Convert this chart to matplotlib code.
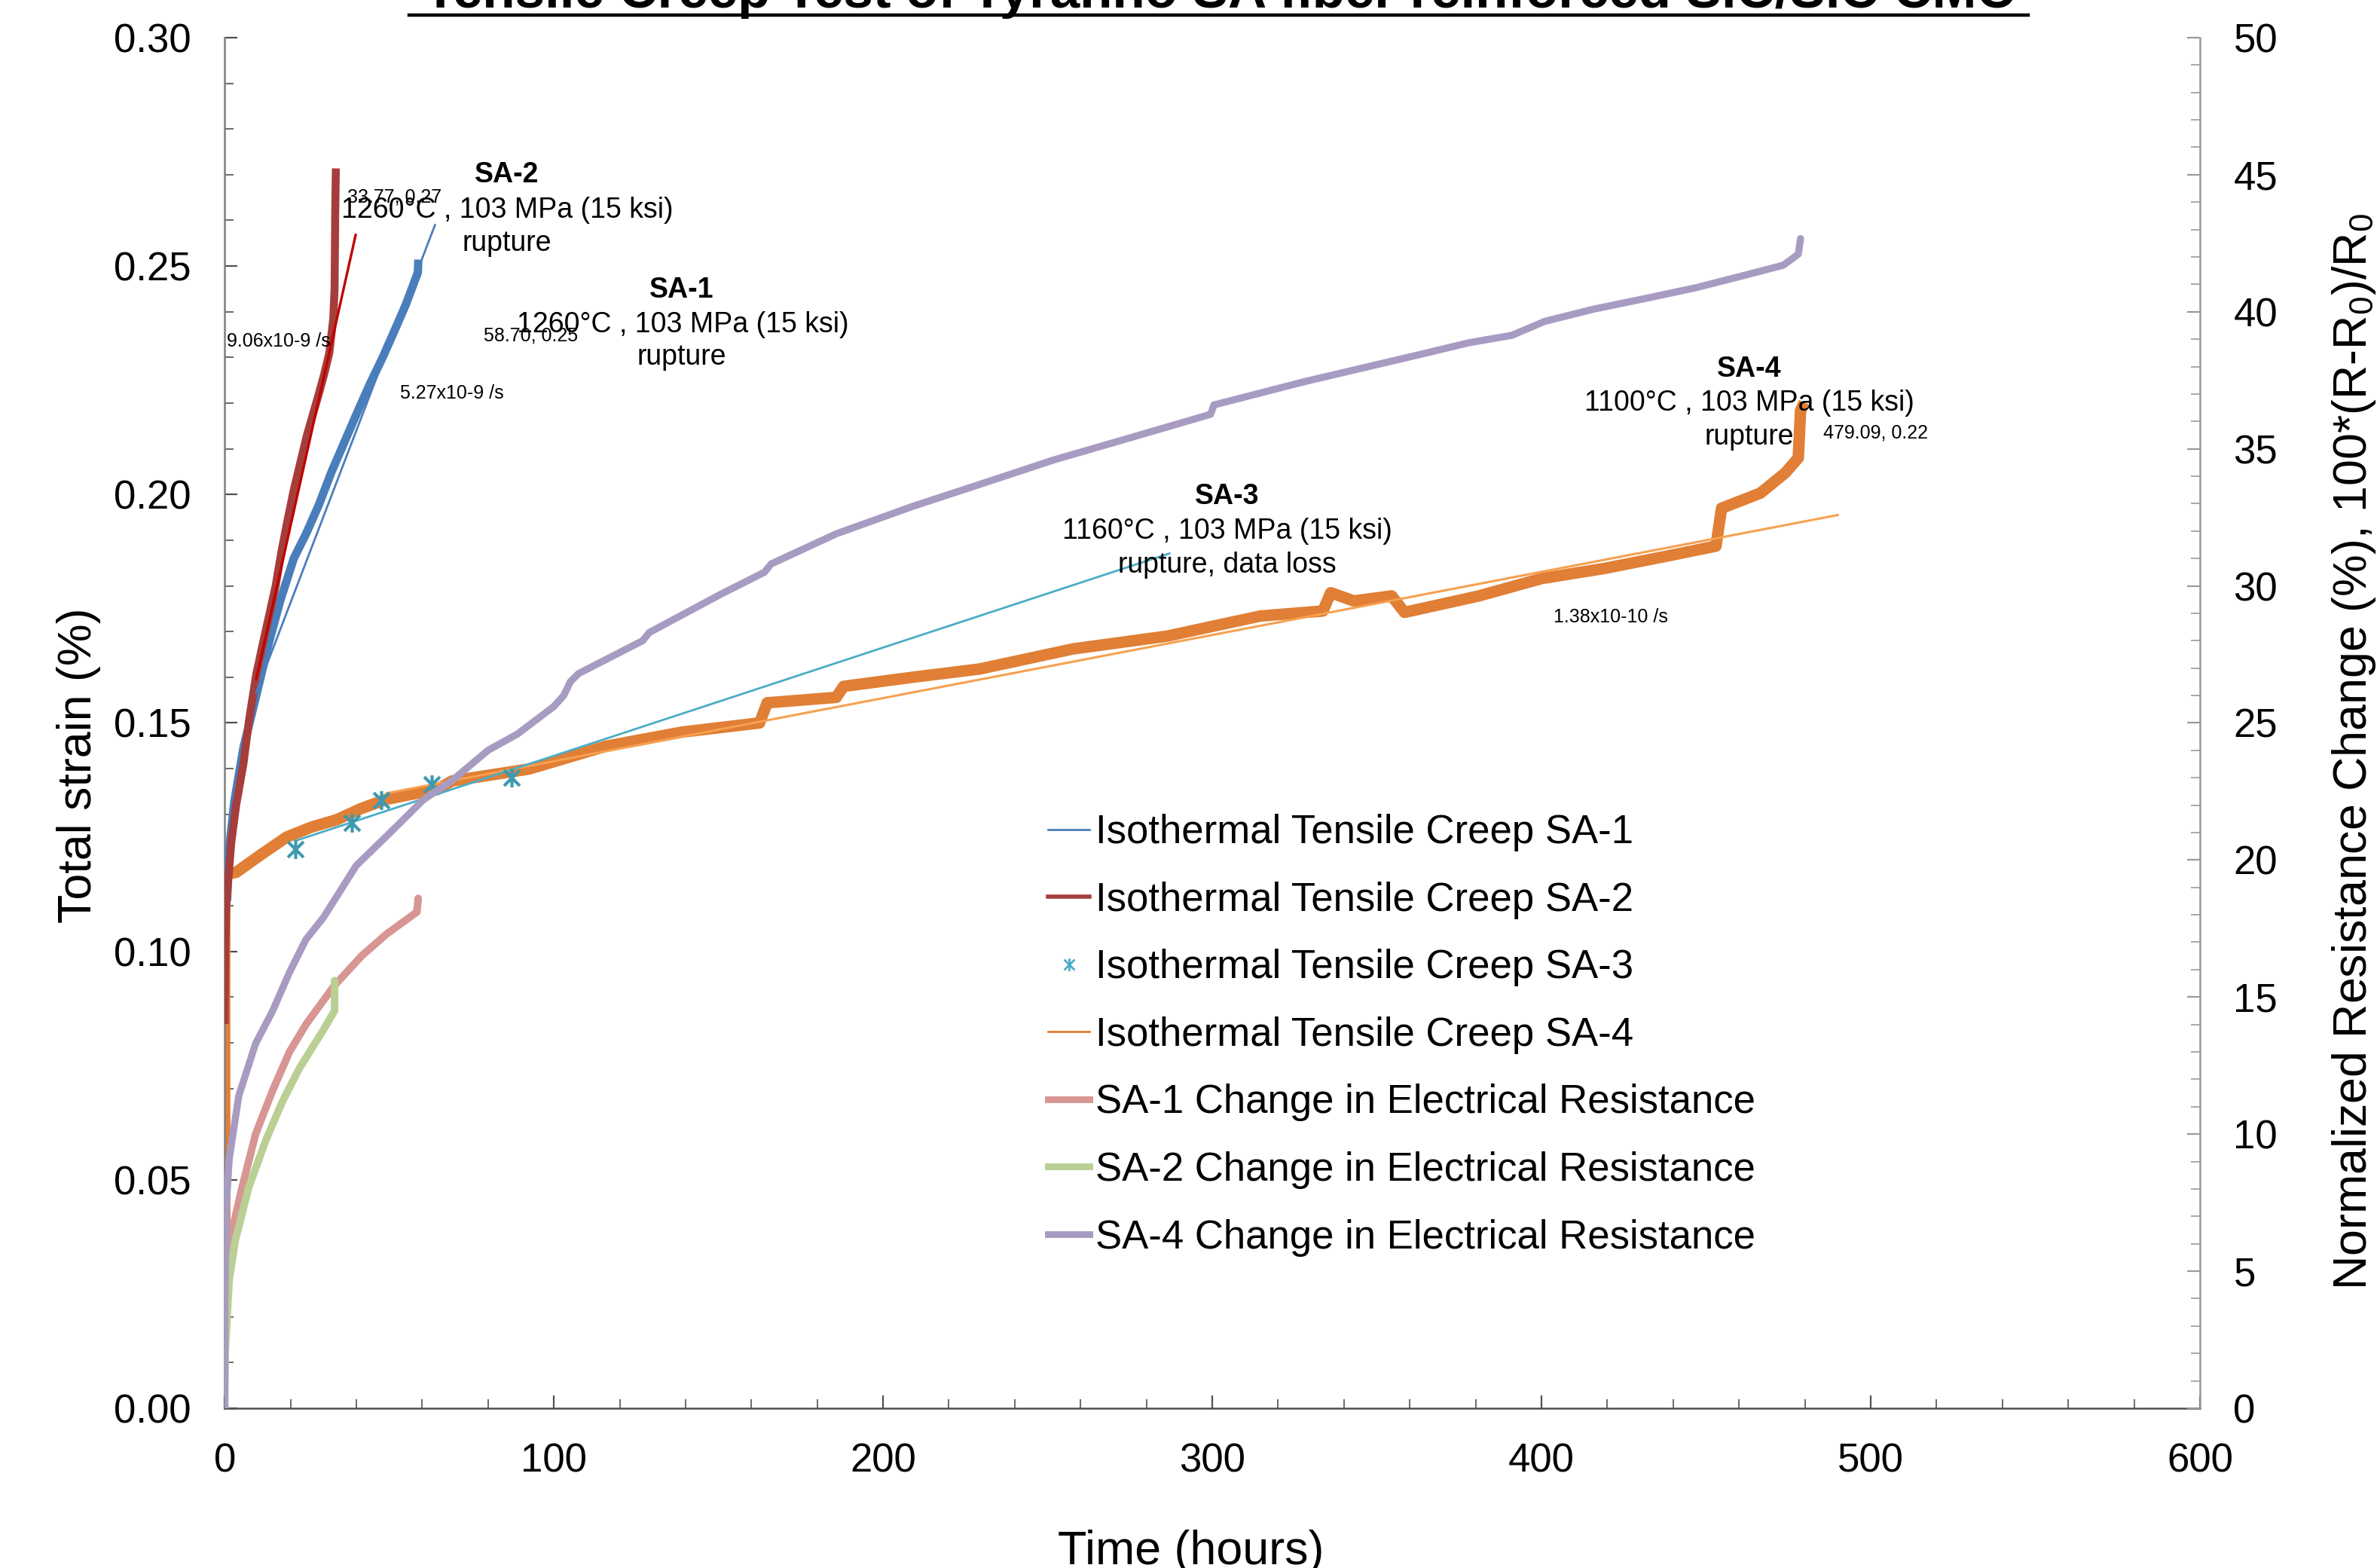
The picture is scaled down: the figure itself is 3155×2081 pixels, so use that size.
import numpy as np
from matplotlib import pyplot as plt
from matplotlib.lines import Line2D
from matplotlib.path import Path
from matplotlib.ticker import MultipleLocator, FormatStrFormatter

plt.rcParams['font.family'] = ['Liberation Sans', 'DejaVu Sans']
plt.rcParams['mathtext.fontset'] = 'custom'
plt.rcParams['mathtext.rm'] = 'Liberation Sans'
plt.rcParams['mathtext.it'] = 'Liberation Sans:italic'

# strain data, total strain (%) vs time (h)
sa1_t = [0.8, 1.2, 3.0, 5.7, 9.6, 13.5, 17.0, 21.0, 24.8, 28.6, 32.5, 36.4, 40.0, 44.0, 48.0, 51.5, 55.0, 58.7, 58.8]
sa1_y = [0.112, 0.1214, 0.133, 0.1445, 0.156, 0.1677, 0.177, 0.186, 0.1915, 0.1977, 0.205, 0.2115, 0.2175,
         0.224, 0.230, 0.2357, 0.2415, 0.2486, 0.2505]

sa2_t = [0.0, 0.2, 0.5, 2.0, 3.5, 5.7, 7.5, 9.6, 11.5, 13.5, 15.5, 17.2, 19.0, 21.0, 23.0, 24.9, 26.8, 28.6,
         30.3, 31.8, 33.0, 33.4, 33.6, 33.77]
sa2_y = [0.085, 0.10, 0.11, 0.1237, 0.132, 0.141, 0.151, 0.1606, 0.167, 0.1735, 0.180, 0.1873, 0.194, 0.201,
         0.207, 0.2127, 0.2175, 0.222, 0.2265, 0.231, 0.2385, 0.245, 0.262, 0.2705]

sa3_t = [21.5, 38.7, 47.6, 63.0, 87.2]
sa3_y = [0.1224, 0.1282, 0.1331, 0.1366, 0.138]
sa3_line_t = [21.5, 287.0]
sa3_line_y = [0.1242, 0.1871]

sa4_t = [0.0, 0.0, 3.5, 11.1, 18.8, 26.4, 34.0, 41.6, 49.3, 56.9, 64.5, 69.1, 92.4, 115.8, 139.0, 162.5, 164.8,
         185.8, 188.0, 209.0, 229.3, 257.7, 286.3, 314.6, 333.6, 336.0, 343.0, 354.5, 358.4, 381.0, 400.0,
         419.0, 438.0, 453.0, 454.7, 466.5, 474.0, 478.0, 478.7, 479.09]
sa4_y = [0.038, 0.1168, 0.1173, 0.1212, 0.125, 0.1272, 0.1288, 0.1313, 0.1333, 0.1344, 0.1354, 0.1373, 0.1399,
         0.1449, 0.148, 0.150, 0.1544, 0.1556, 0.158, 0.160, 0.1618, 0.1662, 0.169, 0.1734, 0.1745, 0.1785,
         0.1767, 0.1778, 0.1742, 0.1778, 0.1816, 0.1838, 0.1865, 0.1887, 0.197, 0.2003, 0.2047, 0.208, 0.2184,
         0.219]

# linear fits drawn on the strain curves
fit1_t = [9.6, 63.9]
fit1_y = [0.1567, 0.259]
fit2_t = [9.6, 39.8]
fit2_y = [0.1596, 0.2568]
fit4_t = [49.2, 490.0]
fit4_y = [0.1346, 0.1955]

# electrical resistance change (%), right axis
r1_t = [0.0, 0.0, 0.7, 2.3, 5.3, 9.4, 14.6, 19.7, 24.7, 33.2, 41.6, 49.2, 58.4, 58.8]
r1_y = [0.0, 2.1, 5.1, 6.5, 8.05, 10.0, 11.6, 13.0, 14.0, 15.4, 16.5, 17.3, 18.1, 18.6]

r2_t = [0.0, 0.2, 1.4, 3.2, 7.3, 12.6, 17.6, 22.7, 30.0, 33.4, 33.4]
r2_y = [0.0, 2.1, 4.7, 6.1, 8.05, 9.8, 11.2, 12.4, 13.8, 14.5, 15.6]

r4_t = [0.0, 0.1, 0.5, 1.4, 4.3, 9.4, 14.6, 19.7, 24.7, 30.0, 40.0, 50.3, 60.4, 69.1, 80.0, 89.0, 100.0, 103.0,
        105.0, 107.5, 127.0, 129.0, 150.8, 164.0, 166.0, 185.8, 209.0, 229.3, 252.0, 275.0, 299.5, 300.5, 328.0,
        362.0, 378.0, 391.0, 401.0, 416.0, 431.0, 447.0, 462.0, 473.5, 478.0, 478.7]
r4_y = [0.0, 4.0, 7.4, 9.1, 11.4, 13.3, 14.5, 15.9, 17.1, 17.9, 19.8, 21.0, 22.2, 22.9, 24.0, 24.6, 25.6, 26.0,
        26.5, 26.8, 28.0, 28.3, 29.7, 30.5, 30.8, 31.9, 32.9, 33.7, 34.6, 35.4, 36.26, 36.6, 37.45, 38.41, 38.87,
        39.14, 39.65, 40.1, 40.47, 40.88, 41.34, 41.7, 42.1, 42.67]

labels = ['Isothermal Tensile Creep SA-1', 'Isothermal Tensile Creep SA-2', 'Isothermal Tensile Creep SA-3',
          'Isothermal Tensile Creep SA-4', 'SA-1 Change in Electrical Resistance',
          'SA-2 Change in Electrical Resistance', 'SA-4 Change in Electrical Resistance']

blue = '#4A7EBB'
red = '#A53E3B'
cyan = '#4BACC6'
orange = '#E07F35'
pink = '#D79694'
green = '#BACF94'
purple = '#A89BC2'

star = Path([(-1, -1), (1, 1), (-1, 1), (1, -1), (0, -1.2), (0, 1.2)],
            [Path.MOVETO, Path.LINETO, Path.MOVETO, Path.LINETO, Path.MOVETO, Path.LINETO])

fig = plt.figure(figsize=(15.775, 10.405), dpi=200)
ax = fig.add_axes([0.0945, 0.1019, 0.8310, 0.8741])
ax2 = ax.twinx()

ax.plot(sa4_t, sa4_y, color=orange, lw=5.5, zorder=2)
ax.plot(sa1_t, sa1_y, color=blue, lw=4.0, zorder=3)
ax.plot(sa2_t, sa2_y, color=red, lw=3.8, zorder=4)
ax.plot(fit4_t, fit4_y, color='#F7A050', lw=1.1, zorder=5)
ax.plot(fit1_t, fit1_y, color=blue, lw=1.0, zorder=5)
ax.plot(fit2_t, fit2_y, color='#C00000', lw=1.2, zorder=5)
ax.plot(sa3_line_t, sa3_line_y, color=cyan, lw=1.0, zorder=6)
ax.plot(sa3_t, sa3_y, ls='none', marker=star, ms=9, mew=1.5, color='#3D9AB0', zorder=7)

ax2.plot(r1_t, r1_y, color=pink, lw=3.6, solid_capstyle='round')
ax2.plot(r2_t, r2_y, color=green, lw=3.6, solid_capstyle='round')
ax2.plot(r4_t, r4_y, color=purple, lw=3.4, solid_capstyle='round')

ax.set_xlim(0, 600)
ax.set_ylim(0, 0.30)
ax2.set_ylim(0, 50)
ax.xaxis.set_major_locator(MultipleLocator(100))
ax.xaxis.set_minor_locator(MultipleLocator(20))
ax.yaxis.set_major_locator(MultipleLocator(0.05))
ax.yaxis.set_minor_locator(MultipleLocator(0.01))
ax.yaxis.set_major_formatter(FormatStrFormatter('%.2f'))
ax2.yaxis.set_major_locator(MultipleLocator(5))
ax2.yaxis.set_minor_locator(MultipleLocator(1))

for a in (ax, ax2):
    a.spines['top'].set_visible(False)
ax.spines['right'].set_visible(False)
ax2.spines['left'].set_visible(False)
ax2.spines['bottom'].set_visible(False)
ax.spines['left'].set_color('#7f7f7f')
ax.spines['bottom'].set_color('#505050')
ax2.spines['right'].set_color('#9a9a9a')
for s in ('left', 'bottom'):
    ax.spines[s].set_linewidth(0.9)
ax2.spines['right'].set_linewidth(0.9)

ax.tick_params(axis='y', which='major', direction='in', length=6, width=0.8, color='#505050', labelsize=19, pad=16)
ax.tick_params(axis='y', which='minor', direction='in', length=4.2, width=0.6, color='#505050')
ax.tick_params(axis='x', which='major', direction='in', length=6, width=0.8, color='#505050', labelsize=19, pad=16.5)
ax.tick_params(axis='x', which='minor', direction='in', length=4.2, width=0.6, color='#505050')
ax2.tick_params(axis='y', which='major', direction='in', length=6, width=0.8, color='#9a9a9a', labelsize=19, pad=16)
ax2.tick_params(axis='y', which='minor', direction='in', length=4.2, width=0.6, color='#9a9a9a')

ax.set_xlabel('Time (hours)', fontsize=22.6)
ax.xaxis.set_label_coords(0.489, -0.0883)
ax.set_ylabel('Total strain (%)', fontsize=22.6)
ax.yaxis.set_label_coords(-0.0627, 0.469)
ax2.set_ylabel(r'Normalized Resistance Change (%), 100*(R-R$_0$)/R$_0$', fontsize=22.6)
ax2.yaxis.set_label_coords(1.066, 0.479)

# title sits partly above the figure edge, underlined
fig.text(0.513, 1 - 10 / 2081, 'Tensile Creep Test of Tyranno SA fiber reinforced SiC/SiC CMC',
         ha='center', va='baseline', fontsize=25.5, fontweight='bold')
fig.add_artist(Line2D([543 / 3155, 2692 / 3155], [1 - 20 / 2081, 1 - 20 / 2081], color='black', lw=1.6))

# test condition notes
notes = [
    (85.8, 0.2700, 'SA-2', True), (85.8, 0.2623, '1260°C , 103 MPa (15 ksi)', False), (85.8, 0.2550, 'rupture', False),
    (138.9, 0.2448, 'SA-1', True), (139.2, 0.2372, '1260°C , 103 MPa (15 ksi)', False), (138.9, 0.2300, 'rupture', False),
    (304.6, 0.1995, 'SA-3', True), (304.6, 0.1920, '1160°C , 103 MPa (15 ksi)', False),
    (304.6, 0.1846, 'rupture, data loss', False),
    (463.2, 0.2275, 'SA-4', True), (463.2, 0.2200, '1100°C , 103 MPa (15 ksi)', False), (463.2, 0.2126, 'rupture', False),
]
for x, y, s, bold in notes:
    ax.text(x, y, s, ha='center', va='center', fontsize=13.5, fontweight='bold' if bold else 'normal', zorder=8)

small = [(51.5, 0.2651, '33.77, 0.27'), (92.9, 0.2348, '58.70, 0.25'), (16.5, 0.2336, '9.06x10-9 /s'),
         (69.1, 0.2222, '5.27x10-9 /s'), (421.0, 0.1731, '1.38x10-10 /s'), (501.6, 0.2135, '479.09, 0.22')]
for x, y, s in small:
    ax.text(x, y, s, ha='center', va='center', fontsize=9, zorder=8)

handles = [Line2D([], [], color=blue, lw=1.0),
           Line2D([], [], color=red, lw=2.0),
           Line2D([], [], ls='none', marker=star, ms=6, mew=1.0, color=cyan),
           Line2D([], [], color=orange, lw=1.0),
           Line2D([], [], color=pink, lw=3.2),
           Line2D([], [], color=green, lw=3.2),
           Line2D([], [], color=purple, lw=3.2)]
ax2.legend(handles, labels, loc='upper left', bbox_to_anchor=(0.4409, 0.481), bbox_transform=fig.transFigure,
           frameon=False, fontsize=19, borderpad=0, borderaxespad=0, handlelength=1.05, handletextpad=0.15,
           labelspacing=0.75)

fig.savefig('out.png', dpi=200)
